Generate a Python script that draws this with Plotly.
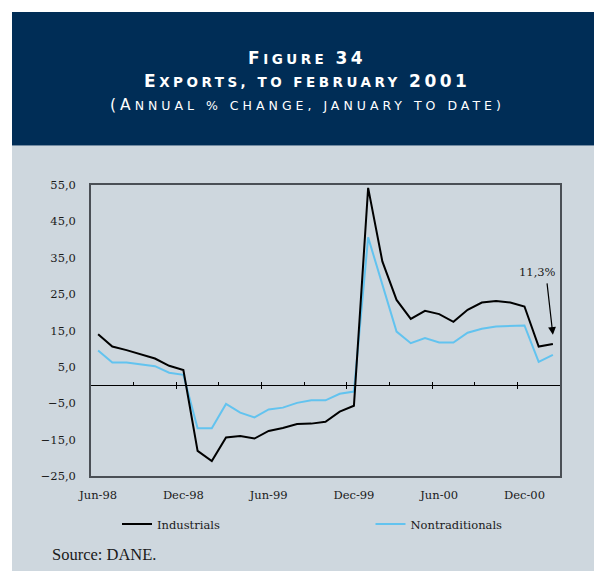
import plotly.graph_objects as go

months = ["Jun-98", "Jul-98", "Aug-98", "Sep-98", "Oct-98", "Nov-98", "Dec-98",
          "Jan-99", "Feb-99", "Mar-99", "Apr-99", "May-99", "Jun-99", "Jul-99",
          "Aug-99", "Sep-99", "Oct-99", "Nov-99", "Dec-99", "Jan-00", "Feb-00",
          "Mar-00", "Apr-00", "May-00", "Jun-00", "Jul-00", "Aug-00", "Sep-00",
          "Oct-00", "Nov-00", "Dec-00", "Jan-01", "Feb-01"]

industrials = [14.0, 10.6, 9.6, 8.5, 7.3, 5.3, 4.1, -18.1, -20.9, -14.4, -14.0,
               -14.7, -12.6, -11.8, -10.7, -10.6, -10.1, -7.3, -5.7, 54.2, 34.0,
               23.4, 18.2, 20.4, 19.5, 17.4, 20.7, 22.7, 23.1, 22.7, 21.6, 10.6, 11.3]

nontraditionals = [9.5, 6.2, 6.2, 5.7, 5.2, 3.4, 2.8, -11.9, -11.9, -5.2, -7.6,
                   -8.9, -6.7, -6.2, -4.9, -4.2, -4.2, -2.4, -1.8, 40.6, 27.5,
                   14.7, 11.5, 12.9, 11.7, 11.7, 14.4, 15.5, 16.1, 16.3, 16.4, 6.4, 8.3]

label_months = ["Jun-98", "Dec-98", "Jun-99", "Dec-99", "Jun-00", "Dec-00"]
y_ticks = [55, 45, 35, 25, 15, 5, -5, -15, -25]

idx = list(range(len(months)))
label_idx = [months.index(m) for m in label_months]
quarter_bounds = [i + 0.5 for i in idx if (i + 1) % 3 == 0 and i < len(months) - 1]
half_bounds = [i + 0.5 for i in idx if (i + 1) % 6 == 0 and i < len(months) - 1]

NAVY = "#002d56"
GRAY = "#ced7de"
BLUE = "#62c3ef"
TXT = "#1a1a1a"

# page body has an 8px margin: figure is offset by OFF in the screenshot
OFF = 8
SW, SH = 602, 571           # screenshot size
L, R, T, B = 91, 560, 185, 476  # plot area in screenshot pixels
W, H = SW - OFF, SH - OFF


def px_x(p):
    return (p - L) / (R - L)


def px_y(p):
    return (B - p) / (B - T)


fig = go.Figure()
fig.add_trace(go.Scatter(x=idx, y=nontraditionals, mode="lines", name="Nontraditionals",
                         line=dict(color=BLUE, width=2), legend="legend2"))
fig.add_trace(go.Scatter(x=idx, y=industrials, mode="lines", name="Industrials",
                         line=dict(color="black", width=2), legend="legend"))
# carriers for the zero-line axes
fig.add_trace(go.Scatter(x=[], y=[], xaxis="x2", showlegend=False, hoverinfo="skip"))
fig.add_trace(go.Scatter(x=[], y=[], xaxis="x3", showlegend=False, hoverinfo="skip"))

xr = [-0.5, len(months) - 0.5]
zero_pos = (0 - (-25)) / (55 - (-25))

legend_common = dict(orientation="h", xanchor="left", yanchor="middle",
                     bgcolor="rgba(0,0,0,0)", borderwidth=0, itemwidth=30,
                     font=dict(family="DejaVu Serif", size=11.5, color=TXT))

fig.update_layout(
    width=W, height=H,
    margin=dict(l=L - OFF, r=W - (R - OFF), t=T - OFF, b=H - (B - OFF), pad=0),
    paper_bgcolor="white",
    plot_bgcolor=GRAY,
    separators=",.",
    showlegend=True,
    xaxis=dict(range=xr, tickvals=label_idx, ticktext=label_months, ticks="",
               showgrid=False, zeroline=False, showline=True, mirror=True,
               linecolor="#4a4f55", linewidth=1.5,
               tickfont=dict(family="DejaVu Serif", size=11.5, color=TXT),
               ticklabelstandoff=7),
    xaxis2=dict(range=xr, overlaying="x", anchor="free", position=zero_pos,
                showline=True, linecolor="black", linewidth=1.2,
                ticks="inside", tickvals=quarter_bounds, ticklen=3, tickwidth=1.2,
                tickcolor="black", showticklabels=False, showgrid=False, zeroline=False),
    xaxis3=dict(range=xr, overlaying="x", anchor="free", position=zero_pos,
                showline=False, ticks="outside", tickvals=half_bounds, ticklen=3,
                tickwidth=1.2, tickcolor="black", showticklabels=False,
                showgrid=False, zeroline=False),
    yaxis=dict(range=[-25, 55], tickvals=y_ticks, tickformat=".1f", ticks="",
               showgrid=False, zeroline=False, showline=True, mirror=True,
               linecolor="#4a4f55", linewidth=1.5,
               tickfont=dict(family="DejaVu Serif", size=11.5, color=TXT),
               ticklabelstandoff=11),
    legend=dict(x=px_x(117), y=px_y(524), **legend_common),
    legend2=dict(x=px_x(370.5), y=px_y(524), **legend_common),
)

# panels
fig.add_shape(type="rect", xref="paper", yref="paper", layer="below",
              x0=px_x(12), x1=px_x(SW + 2), y0=px_y(SH + 2), y1=px_y(145.5),
              fillcolor=GRAY, line_width=0)
fig.add_shape(type="rect", xref="paper", yref="paper", layer="below",
              x0=px_x(12), x1=px_x(SW + 2), y0=px_y(145.5), y1=px_y(12),
              fillcolor=NAVY, line_width=0)

TF = "DejaVu Sans"


def span(t, size, ls):
    return f"<span style='font-size:{size}px;letter-spacing:{ls}px'>{t}</span>"


line1 = "<b>" + span("F", 17, 3.5) + span("IGURE ", 13.5, 3.5) + span("34", 17, 3.5) + "</b>"
line2 = "<b>" + span("E", 17, 3.5) + span("XPORTS, TO FEBRUARY ", 13.5, 3.5) + span("2001", 17, 3.5) + "</b>"
line3 = span("(A", 15.5, 4) + span("NNUAL % CHANGE, JANUARY TO DATE)", 12.5, 4)

for txt, yc in [(line1, 57.5), (line2, 81), (line3, 104.5)]:
    fig.add_annotation(text=txt, xref="paper", yref="paper", x=px_x(307), y=px_y(yc),
                       xanchor="center", yanchor="middle", showarrow=False,
                       font=dict(family=TF, size=16, color="white"))

fig.add_annotation(text="Source: DANE.", xref="paper", yref="paper",
                   x=px_x(50), y=px_y(554), xanchor="left", yanchor="middle",
                   showarrow=False,
                   font=dict(family="Liberation Serif", size=16.5, color=TXT))

last = len(months) - 1
fig.add_annotation(text="11,3%", xref="x", yref="y", x=last, y=industrials[last],
                   showarrow=False, xshift=537 - 552.7, yshift=344.0 - 272.5,
                   font=dict(family="DejaVu Serif", size=11.5, color=TXT))
fig.add_annotation(text="", xref="x", yref="y", x=last, y=13.8,
                   ax=-6, ay=-53, showarrow=True, arrowhead=2, arrowsize=1.3,
                   arrowwidth=1.2, arrowcolor="black", standoff=0, startstandoff=0)

fig.write_html("out.html")
